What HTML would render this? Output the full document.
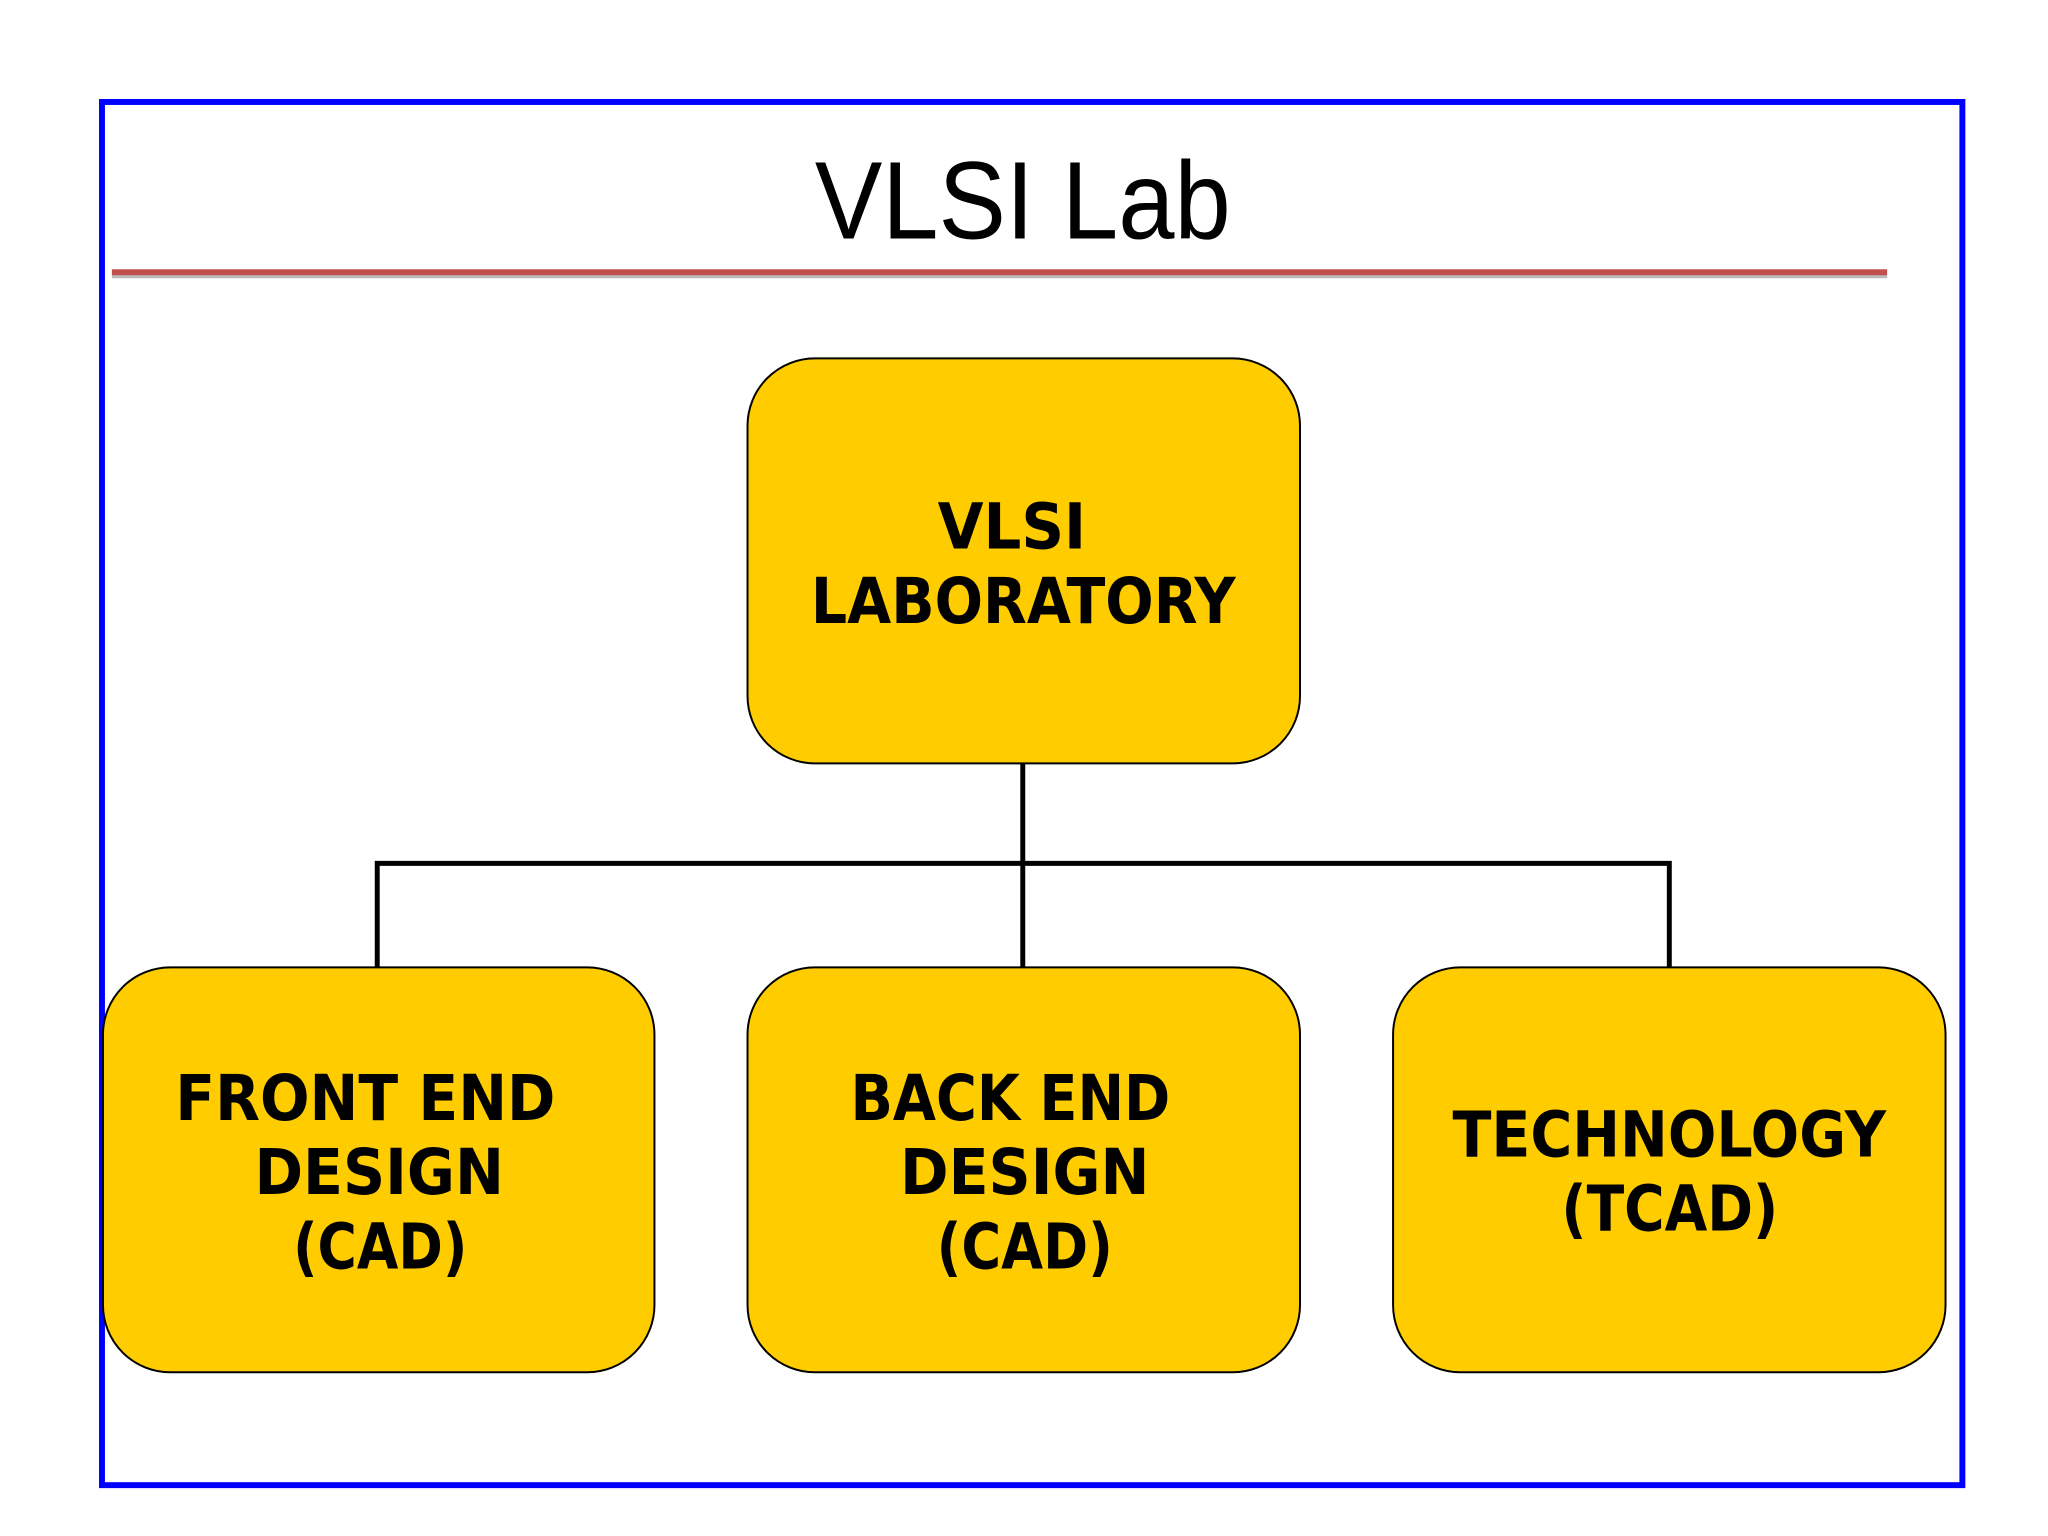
<!DOCTYPE html>
<html><head><meta charset="utf-8"><style>html,body{margin:0;padding:0;background:#fff}svg{display:block}</style></head>
<body>
<svg width="2048" height="1536" viewBox="0 0 2048 1536" xmlns="http://www.w3.org/2000/svg">
<g transform="scale(0.9901)">
<rect x="103" y="103" width="1879" height="1397" fill="none" stroke="#0000ff" stroke-width="6"/>
<text x="1033" y="241" font-family="Liberation Sans, sans-serif" font-size="112" text-anchor="middle" textLength="420" lengthAdjust="spacingAndGlyphs" fill="#000">VLSI Lab</text>
<line x1="113" y1="279" x2="1906" y2="279" stroke="#bbb" stroke-width="4"/>
<line x1="113" y1="275" x2="1906" y2="275" stroke="#c0504d" stroke-width="6"/>
<g stroke="#000" stroke-width="5" fill="none">
<line x1="1033" y1="771" x2="1033" y2="977"/>
<polyline points="381,977 381,872 1686,872 1686,977"/>
</g>
<g fill="#ffcc00" stroke="#000" stroke-width="2">
<rect x="755" y="362" width="558" height="409" rx="68"/>
<rect x="104" y="977" width="557" height="409" rx="68"/>
<rect x="755" y="977" width="558" height="409" rx="68"/>
<rect x="1407" y="977" width="558" height="409" rx="68"/>
</g>
<g font-family="DejaVu Sans, sans-serif" font-weight="bold" font-size="64" fill="#000">
<text x="947" y="554" textLength="150" lengthAdjust="spacingAndGlyphs">VLSI</text>
<text x="819" y="629" textLength="429" lengthAdjust="spacingAndGlyphs">LABORATORY</text>
<text x="177" y="1131" textLength="384" lengthAdjust="spacingAndGlyphs">FRONT END</text>
<text x="257" y="1206" textLength="252" lengthAdjust="spacingAndGlyphs">DESIGN</text>
<text x="296" y="1281" textLength="176" lengthAdjust="spacingAndGlyphs">(CAD)</text>
<text x="859" y="1131" textLength="323" lengthAdjust="spacingAndGlyphs">BACK END</text>
<text x="909" y="1206" textLength="252" lengthAdjust="spacingAndGlyphs">DESIGN</text>
<text x="946" y="1281" textLength="178" lengthAdjust="spacingAndGlyphs">(CAD)</text>
<text x="1467" y="1168" textLength="438" lengthAdjust="spacingAndGlyphs">TECHNOLOGY</text>
<text x="1577" y="1243" textLength="219" lengthAdjust="spacingAndGlyphs">(TCAD)</text>
</g>
</g>
</svg>
</body></html>
